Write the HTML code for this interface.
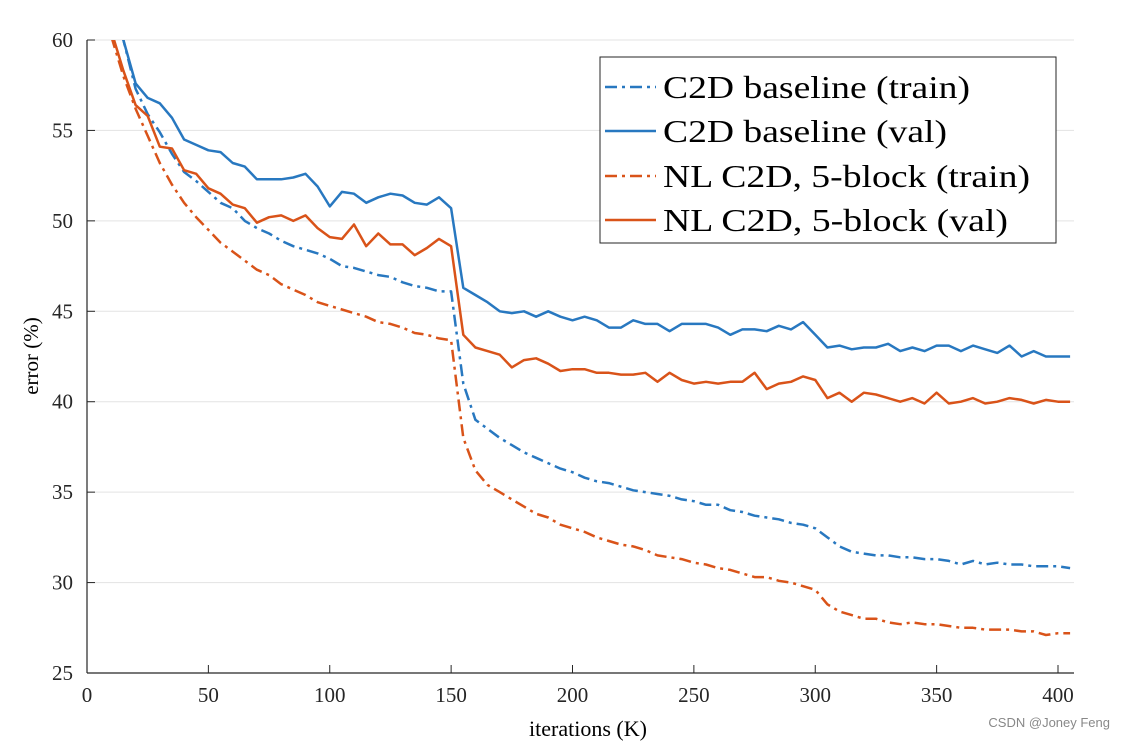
<!DOCTYPE html>
<html><head><meta charset="utf-8"><style>
body{margin:0;background:#fff;width:1121px;height:742px;overflow:hidden}
svg text{font-family:"Liberation Serif",serif}
</style></head><body>
<svg id="chart" width="1121" height="742">
<defs><clipPath id="plotclip"><rect x="87" y="40" width="987" height="633"/></clipPath></defs>
<g id="grid"></g><g id="axes"></g><g id="series" clip-path="url(#plotclip)"></g>
<text x="38" y="356" font-size="21" text-anchor="middle" transform="rotate(-90 38 356)">error (%)</text>
<text x="588" y="736" font-size="22" text-anchor="middle">iterations (K)</text>
<g>
<rect x="600" y="57" width="456" height="186" fill="#fff" stroke="#262626" stroke-width="1"/>
<line x1="605" y1="87" x2="656" y2="87" stroke="#2878c0" stroke-width="2.5" stroke-dasharray="12,5,3,5"/>
<text x="663" y="98" font-size="32" textLength="307" lengthAdjust="spacingAndGlyphs">C2D baseline (train)</text>
<line x1="605" y1="131" x2="656" y2="131" stroke="#2878c0" stroke-width="2.5"/>
<text x="663" y="142" font-size="32" textLength="284" lengthAdjust="spacingAndGlyphs">C2D baseline (val)</text>
<line x1="605" y1="176" x2="656" y2="176" stroke="#D95319" stroke-width="2.5" stroke-dasharray="12,5,3,5"/>
<text x="663" y="187" font-size="32" textLength="367" lengthAdjust="spacingAndGlyphs">NL C2D, 5-block (train)</text>
<line x1="605" y1="220" x2="656" y2="220" stroke="#D95319" stroke-width="2.5"/>
<text x="663" y="231" font-size="32" textLength="345" lengthAdjust="spacingAndGlyphs">NL C2D, 5-block (val)</text>
</g>
<text x="1110" y="727" font-size="13" fill="#888" text-anchor="end" style="font-family:'Liberation Sans',sans-serif">CSDN @Joney Feng</text>
</svg>
<script>
const xTicks=[0,50,100,150,200,250,300,350,400];
const yTicks=[25,30,35,40,45,50,55,60];
const xStart=[10,15,20,25,30,35,40,45,50,55,60,65,70,75,80,85,90,95,100,105,110,115,120,125,130,135,140,145,150,155,160,165,170,175,180,185,190,195,200,205,210,215,220,225,230,235,240,245,250,255,260,265,270,275,280,285,290,295,300,305,310,315,320,325,330,335,340,345,350,355,360,365,370,375,380,385,390,395,400,405];
const c2dVal=[63,60,57.6,56.8,56.5,55.7,54.5,54.2,53.9,53.8,53.2,53.0,52.3,52.3,52.3,52.4,52.6,51.9,50.8,51.6,51.5,51.0,51.3,51.5,51.4,51.0,50.9,51.3,50.7,46.3,45.9,45.5,45.0,44.9,45.0,44.7,45.0,44.7,44.5,44.7,44.5,44.1,44.1,44.5,44.3,44.3,43.9,44.3,44.3,44.3,44.1,43.7,44.0,44.0,43.9,44.2,44.0,44.4,43.7,43.0,43.1,42.9,43.0,43.0,43.2,42.8,43.0,42.8,43.1,43.1,42.8,43.1,42.9,42.7,43.1,42.5,42.8,42.5,42.5,42.5];
const c2dTrain=[63,60,57.3,55.9,54.9,53.7,52.7,52.2,51.6,51.0,50.7,50.0,49.6,49.3,48.9,48.6,48.4,48.2,47.9,47.5,47.4,47.2,47.0,46.9,46.6,46.4,46.3,46.1,46.1,41.0,39.0,38.5,38.0,37.6,37.2,36.9,36.6,36.3,36.1,35.8,35.6,35.5,35.3,35.1,35.0,34.9,34.8,34.6,34.5,34.3,34.3,34.0,33.9,33.7,33.6,33.5,33.3,33.2,33.0,32.5,32.0,31.7,31.6,31.5,31.5,31.4,31.4,31.3,31.3,31.2,31.0,31.2,31.0,31.1,31.0,31.0,30.9,30.9,30.9,30.8];
const nlVal=[60.5,58.3,56.4,55.8,54.1,54.0,52.8,52.6,51.8,51.5,50.9,50.7,49.9,50.2,50.3,50.0,50.3,49.6,49.1,49.0,49.8,48.6,49.3,48.7,48.7,48.1,48.5,49.0,48.6,43.7,43.0,42.8,42.6,41.9,42.3,42.4,42.1,41.7,41.8,41.8,41.6,41.6,41.5,41.5,41.6,41.1,41.6,41.2,41.0,41.1,41.0,41.1,41.1,41.6,40.7,41.0,41.1,41.4,41.2,40.2,40.5,40.0,40.5,40.4,40.2,40.0,40.2,39.9,40.5,39.9,40.0,40.2,39.9,40.0,40.2,40.1,39.9,40.1,40.0,40.0];
const nlTrain=[60.2,58.0,56.2,54.7,53.2,52.0,51.0,50.2,49.5,48.8,48.3,47.8,47.3,47.0,46.5,46.2,45.9,45.5,45.3,45.1,44.9,44.7,44.4,44.3,44.1,43.8,43.7,43.5,43.4,38.0,36.2,35.4,35.0,34.6,34.2,33.8,33.6,33.2,33.0,32.8,32.5,32.3,32.1,32.0,31.8,31.5,31.4,31.3,31.1,31.0,30.8,30.7,30.5,30.3,30.3,30.1,30.0,29.8,29.6,28.8,28.4,28.2,28.0,28.0,27.8,27.7,27.8,27.7,27.7,27.6,27.5,27.5,27.4,27.4,27.4,27.3,27.3,27.1,27.2,27.2];
const NS='http://www.w3.org/2000/svg';
const X=v=>87+(v-0)*(1058-87)/400;
const Y=v=>673-(v-25)*(673-40)/35;
function mk(tag,attrs,parent){const e=document.createElementNS(NS,tag);for(const k in attrs)e.setAttribute(k,attrs[k]);parent.appendChild(e);return e;}
const grid=document.getElementById('grid'),axes=document.getElementById('axes'),ser=document.getElementById('series');
yTicks.forEach(t=>{
 if(t>25){const g=mk('line',{x1:87,x2:1074,y1:Y(t),y2:Y(t),stroke:'#e3e3e3','stroke-width':1},grid);
 
 }
 const tk=mk('line',{x1:87,x2:95,y1:Y(t),y2:Y(t),stroke:'#262626','stroke-width':1},axes);
 
 
 const l=mk('text',{x:73,y:Y(t)+7,'font-size':21,'text-anchor':'end',fill:'#262626'},axes);l.textContent=t;
 
 
});
xTicks.forEach(t=>{
 const tk=mk('line',{x1:X(t),x2:X(t),y1:673,y2:665,stroke:'#262626','stroke-width':1},axes);
 
 
 const l=mk('text',{x:X(t),y:702,'font-size':21,'text-anchor':'middle',fill:'#262626'},axes);l.textContent=t;
 
 
});
const ax1=mk('line',{x1:87,x2:87,y1:40,y2:673,stroke:'#262626','stroke-width':1.2},axes);


const ax2=mk('line',{x1:87,x2:1074,y1:673,y2:673,stroke:'#262626','stroke-width':1.2},axes);


function draw(vals,color,dash,name){
 const d=vals.map((v,i)=>(i?'L':'M')+X(xStart[i]).toFixed(1)+','+Y(v).toFixed(1)).join('');
 const p=mk('path',{d:d,fill:'none',stroke:color,'stroke-width':2.5,'stroke-linejoin':'round'},ser);
 if(dash)p.setAttribute('stroke-dasharray','12,5,3,5');
 
 
}
draw(c2dTrain,'#2878c0',true,'c2d-train-line');
draw(c2dVal,'#2878c0',false,'c2d-val-line');
draw(nlTrain,'#D95319',true,'nl-train-line');
draw(nlVal,'#D95319',false,'nl-val-line');
</script>
</body></html>
